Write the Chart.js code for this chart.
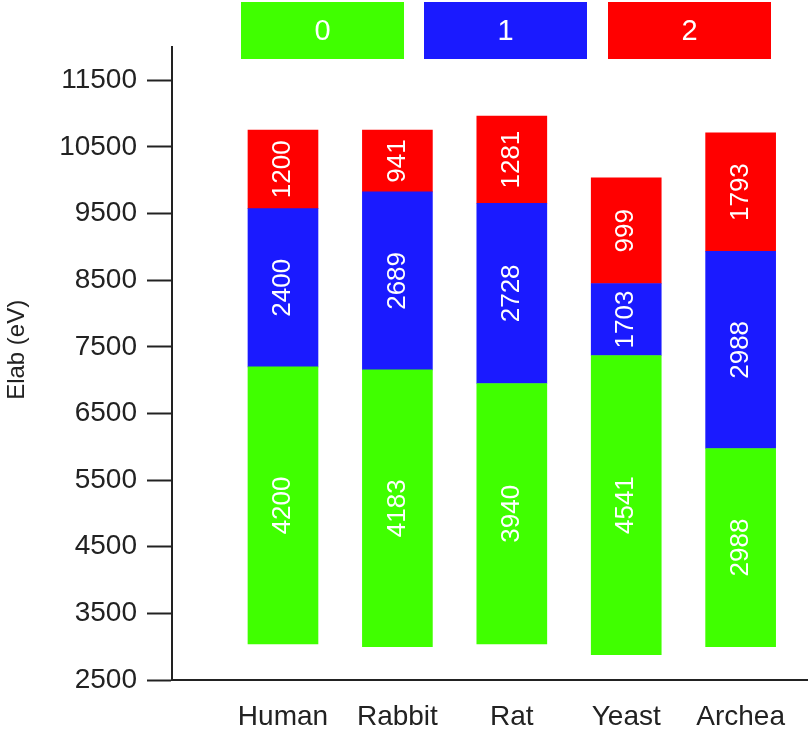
<!DOCTYPE html>
<html>
<head>
<meta charset="utf-8">
<title>Elab stacked bars</title>
<script src="https://cdn.jsdelivr.net/npm/chart.js@4.4.0/dist/chart.umd.min.js"></script>
<style>
  html, body { margin: 0; padding: 0; background: #fff; }
  #wrap { position: relative; width: 811px; height: 730px; }
  #legend { position: absolute; left: 0; top: 0; width: 811px; height: 60px; }
  .legend-item {
    position: absolute; top: 2px; width: 163px; height: 57px;
    display: flex; align-items: center; justify-content: center;
    color: #fff; font: 29px "Liberation Sans", Arial, sans-serif;
  }
</style>
</head>
<body>
<div id="wrap">
  <canvas id="chart-bar" width="811" height="730"></canvas>
  <div id="legend"></div>
</div>
<script>
const CATEGORIES = ["Human", "Rabbit", "Rat", "Yeast", "Archea"];
const SERIES_NAMES = ["0", "1", "2"];
const COLORS = ["#40ff00", "#1a1aff", "#ff0000"];

// segment edges as drawn in the picture (eV)
const BAR_BOTTOM = [3040, 3000, 3040, 2880, 3000];
const GREEN_TOP = [7200, 7155, 6950, 7370, 5975];
const BLUE_TOP = [9575, 9825, 9655, 8450, 8935];
const RED_TOP = [10755, 10755, 10965, 10035, 10710];

// numbers printed inside the bars
const GREEN_LABELS = [4200, 4183, 3940, 4541, 2988];
const BLUE_LABELS = [2400, 2689, 2728, 1703, 2988];
const RED_LABELS = [1200, 941, 1281, 999, 1793];

const Y_TICKS = [2500, 3500, 4500, 5500, 6500, 7500, 8500, 9500, 10500, 11500];
const Y_TITLE = "Elab (eV)";

const FONT = "'Liberation Sans', Arial, sans-serif";
const INK = "#222";

Chart.defaults.font.family = FONT;
Chart.defaults.color = INK;

const segment = (lo, hi) => CATEGORIES.map((_, i) => ({ x: i, y: [lo[i], hi[i]] }));

const DATA = {
  datasets: [
    { label: SERIES_NAMES[0], data: segment(BAR_BOTTOM, GREEN_TOP), backgroundColor: COLORS[0], texts: GREEN_LABELS },
    { label: SERIES_NAMES[1], data: segment(GREEN_TOP, BLUE_TOP), backgroundColor: COLORS[1], texts: BLUE_LABELS },
    { label: SERIES_NAMES[2], data: segment(BLUE_TOP, RED_TOP), backgroundColor: COLORS[2], texts: RED_LABELS },
  ].map((d) => ({ ...d, borderWidth: 0, barThickness: 70 })),
};

// white rotated numbers in the middle of each segment
const segmentText = {
  id: "segmentText",
  afterDatasetsDraw(chart) {
    const ctx = chart.ctx;
    ctx.save();
    ctx.fillStyle = "#fff";
    ctx.font = "26px " + FONT;
    ctx.textAlign = "center";
    ctx.textBaseline = "middle";
    chart.data.datasets.forEach((ds, di) => {
      chart.getDatasetMeta(di).data.forEach((bar, i) => {
        const { x, y, base } = bar.getProps(["x", "y", "base"], true);
        ctx.save();
        ctx.translate(x, (y + base) / 2);
        ctx.rotate(-Math.PI / 2);
        ctx.fillText(String(ds.texts[i]), 0, 0);
        ctx.restore();
      });
    });
    ctx.restore();
  },
};

// y axis title, sits a bit above the middle of the plot like the original
const yTitle = {
  id: "yTitle",
  afterDraw(chart) {
    const ctx = chart.ctx;
    ctx.save();
    ctx.fillStyle = INK;
    ctx.font = "24px " + FONT;
    ctx.textAlign = "center";
    ctx.textBaseline = "middle";
    ctx.translate(17, chart.scales.y.getPixelForValue(7500) + 3);
    ctx.rotate(-Math.PI / 2);
    ctx.fillText(Y_TITLE, 0, 0);
    ctx.restore();
  },
};

const CONFIG = {
  type: "bar",
  data: DATA,
  options: {
    responsive: false,
    animation: false,
    layout: { padding: { top: 47, right: 4, bottom: 0, left: 0 } },
    plugins: {
      legend: { display: false },
      title: { display: false },
      tooltip: { enabled: false },
    },
    scales: {
      x: {
        type: "linear",
        stacked: true,
        offset: false,
        min: -0.97,
        max: 4.58,
        afterBuildTicks: (scale) => {
          scale.ticks = CATEGORIES.map((_, i) => ({ value: i }));
        },
        afterFit: (scale) => {
          scale.height = 50;
        },
        grid: { display: false, drawTicks: false },
        border: { display: true, color: INK, width: 2 },
        ticks: {
          autoSkip: false,
          maxRotation: 0,
          padding: 20,
          font: { size: 28 },
          color: INK,
          callback: (v) => CATEGORIES[v],
        },
      },
      y: {
        stacked: false,
        min: 2500,
        max: 12000,
        afterBuildTicks: (scale) => {
          scale.ticks = Y_TICKS.map((v) => ({ value: v }));
        },
        afterFit: (scale) => {
          scale.width = 172;
        },
        grid: {
          drawOnChartArea: false,
          drawTicks: true,
          tickLength: 25,
          tickWidth: 2,
          tickColor: INK,
        },
        border: { display: true, color: INK, width: 2 },
        ticks: {
          padding: 10,
          font: { size: 28 },
          color: INK,
          callback: (v) => String(v),
        },
      },
    },
  },
  plugins: [segmentText, yTitle],
};

const chart = new Chart(document.getElementById("chart-bar"), CONFIG);

// legend boxes across the top, built from the datasets
const LEGEND_LEFT = [241, 424, 608];
const legendEl = document.getElementById("legend");
chart.data.datasets.forEach((ds, i) => {
  const box = document.createElement("div");
  box.className = "legend-item";
  box.style.left = LEGEND_LEFT[i] + "px";
  box.style.background = ds.backgroundColor;
  box.textContent = ds.label;
  legendEl.appendChild(box);
});
</script>
</body>
</html>
